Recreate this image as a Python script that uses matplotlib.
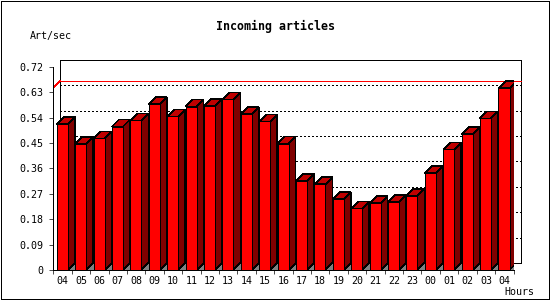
import matplotlib
matplotlib.use("Agg")
import matplotlib.pyplot as plt
from matplotlib.patches import Polygon, Rectangle
from matplotlib.transforms import offset_copy, IdentityTransform
import numpy as np

# ---------------- data ----------------
hours = ["04", "05", "06", "07", "08", "09", "10", "11", "12", "13", "14", "15",
         "16", "17", "18", "19", "20", "21", "22", "23", "00", "01", "02", "03", "04"]
rate = [0.517, 0.446, 0.466, 0.508, 0.530, 0.587, 0.544, 0.579, 0.580, 0.604,
        0.552, 0.526, 0.448, 0.315, 0.304, 0.251, 0.218, 0.237, 0.241, 0.262,
        0.343, 0.427, 0.481, 0.537, 0.644]
y_ticks = [0, 0.09, 0.18, 0.27, 0.36, 0.45, 0.54, 0.63, 0.72]
y_tick_labels = ["0", "0.09", "0.18", "0.27", "0.36", "0.45", "0.54", "0.63", "0.72"]
title = "Incoming articles"
y_unit = "Art/sec"
x_unit = "Hours"

# ---------------- style ----------------
plt.rcParams["lines.antialiased"] = False
plt.rcParams["patch.antialiased"] = False
W, H, DPI = 550, 300, 100
DEPTH = 7           # pixels of 3-D depth (right and up)
LW = 0.5            # ~1 px when not antialiased
FRONT = "#ff0000"
TOP = "#c00000"
SIDE = "#800000"
SHADOW = "#808080"
MONO = "DejaVu Sans Mono"

fig = plt.figure(figsize=(W / DPI, H / DPI), dpi=DPI)
fig.patch.set_facecolor("white")
ax = fig.add_axes([53.3 / W, 30 / H, 460.2 / W, 203.3 / H])
n = len(hours)
ax.set_xlim(0, n)
ax.set_ylim(0, y_ticks[-1])
ax.patch.set_visible(False)
for s in ("top", "right"):
    ax.spines[s].set_visible(False)
for s in ("left", "bottom"):
    ax.spines[s].set_linewidth(LW)
    ax.spines[s].set_antialiased(False)

back = offset_copy(ax.transData, fig=fig, x=DEPTH, y=DEPTH, units="dots")
ident = IdentityTransform()


def disp(x, y, d=0):
    px, py = ax.transData.transform((x, y))
    return (px + d, py + d)


# back wall
ax.add_patch(Rectangle((0, 0), n, y_ticks[-1], transform=back, fill=False,
                       edgecolor="black", lw=LW, clip_on=False, zorder=1))
# grid lines on back wall
ax.hlines(y_ticks[1:-1], 0, n, transform=back, colors="black", lw=LW,
          linestyles=(0, (2.6, 3.2)), clip_on=False, zorder=1, antialiased=False)
# max line
vmax = max(rate)
ax.hlines([vmax], 0, n, transform=back, colors="#ff0000", lw=LW, clip_on=False,
          zorder=1.5, antialiased=False)
ax.add_line(plt.Line2D(*zip(disp(0, vmax), disp(0, vmax, DEPTH)), transform=ident,
                       color="#ff0000", lw=LW, zorder=1.5))
# left wall top edge & floor right edge
ax.add_line(plt.Line2D(*zip(disp(0, y_ticks[-1]), disp(0, y_ticks[-1], DEPTH)),
                       transform=ident, color="black", lw=LW, zorder=1))
ax.add_line(plt.Line2D(*zip(disp(n, 0), disp(n, 0, DEPTH)), transform=ident,
                       color="black", lw=LW, zorder=1))

# bars: front faces via ax.bar
bar_off, bar_w = 0.185, 0.598
bars = ax.bar(np.arange(n) + bar_off, rate, width=bar_w, align="edge",
              color=FRONT, edgecolor="black", linewidth=LW, zorder=3)
for i, (b, v) in enumerate(zip(bars, rate)):
    x0 = b.get_x()
    x1 = x0 + b.get_width()
    z = 2 + i * 0.01
    # shadow on floor
    ax.add_patch(Polygon([disp(x1, 0), disp(x1, 0, DEPTH), (disp(x1, 0, DEPTH)[0], disp(x1, 0)[1])],
                         closed=True, transform=ident, facecolor=SHADOW, edgecolor="none",
                         zorder=z))
    # side face
    ax.add_patch(Polygon([disp(x1, 0), disp(x1, v), disp(x1, v, DEPTH), disp(x1, 0, DEPTH)],
                         closed=True, transform=ident, facecolor=SIDE, edgecolor="black",
                         lw=LW, zorder=z + 0.001))
    # top face
    ax.add_patch(Polygon([disp(x0, v), disp(x1, v), disp(x1, v, DEPTH), disp(x0, v, DEPTH)],
                         closed=True, transform=ident, facecolor=TOP, edgecolor="black",
                         lw=LW, zorder=z + 0.002))
    b.set_zorder(z + 0.003)

# ticks
ax.set_yticks(y_ticks)
ax.set_yticklabels(y_tick_labels, fontfamily=MONO, fontsize=7.2)
ax.tick_params(axis="y", length=3, width=LW, pad=4.5)
ax.set_xticks(np.arange(n + 1), minor=True)
ax.set_xticks(np.arange(n) + 0.5)
ax.set_xticklabels(hours, fontfamily=MONO, fontsize=7.2)
ax.tick_params(axis="x", which="major", length=0, pad=4)
ax.tick_params(axis="x", which="minor", length=3, width=LW)

# texts
fig.text(0.5, 1 - 26.7 / H, title, ha="center", va="center", fontfamily=MONO,
         fontweight="bold", fontsize=8.4)
fig.text(30 / W, 1 - 36.5 / H, y_unit, ha="left", va="center", fontfamily=MONO, fontsize=7.2)
fig.text(534 / W, 1 - 292 / H, x_unit, ha="right", va="center", fontfamily=MONO, fontsize=7.2)

# outer frame
fig.patches.append(Rectangle((0.5 / W, 1.5 / H), 548 / W, 298 / H, transform=fig.transFigure,
                             fill=False, edgecolor="black", lw=LW, antialiased=False))

fig.savefig("out.png", dpi=DPI)
